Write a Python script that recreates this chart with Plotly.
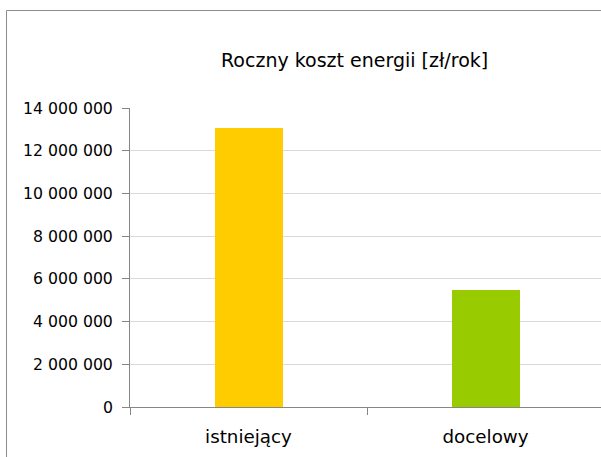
import plotly.graph_objects as go

categories = ["istniejący", "docelowy"]
values = [13050000, 5480000]
colors = ["#FFCC00", "#99CC00"]
title_text = "Roczny koszt energii [zł/rok]"
y_ticks = [0, 2000000, 4000000, 6000000, 8000000, 10000000, 12000000, 14000000]

FONT = "DejaVu Sans"

fig = go.Figure()
fig.add_trace(go.Bar(
    x=categories, y=values, marker=dict(color=colors, line=dict(width=0)),
    width=0.287, hoverinfo="skip",
))

fig.update_layout(
    width=601, height=457,
    margin=dict(l=130, r=0, t=108, b=50),
    paper_bgcolor="white", plot_bgcolor="white",
    separators=", ",
    showlegend=False,
    font=dict(family=FONT, color="#000000"),
    bargap=0,
)
fig.update_xaxes(
    type="category",
    range=[-0.5, 1.487],
    showline=True, linecolor="#868686", linewidth=1,
    ticks="outside", tickson="boundaries", ticklen=7, tickcolor="#868686",
    tickfont=dict(family=FONT, size=18.3),
    showgrid=False, zeroline=False,
    ticklabelstandoff=13,
)
fig.update_yaxes(
    range=[0, 14000000],
    tickvals=y_ticks, tickformat=",d",
    showline=True, linecolor="#868686", linewidth=1,
    ticks="outside", ticklen=7, tickcolor="#868686",
    tickfont=dict(family=FONT, size=15.7),
    showgrid=True, gridcolor="#d9d9d9", gridwidth=1,
    zeroline=False,
    ticklabelstandoff=6,
)
# chart border (top and left edges; right/bottom fall outside the canvas)
bx = (6.5 - 130) / 471
by = (407 - 10.5) / 299
fig.add_shape(type="line", xref="paper", yref="paper",
              x0=bx, x1=1.05, y0=by, y1=by,
              line=dict(color="#8c8c8c", width=1))
fig.add_shape(type="line", xref="paper", yref="paper",
              x0=bx, x1=bx, y0=by, y1=-0.3,
              line=dict(color="#8c8c8c", width=1))
fig.add_annotation(text=title_text, xref="paper", yref="paper",
                   x=(354 - 130) / 471, y=(407 - 60) / 299,
                   xanchor="center", yanchor="middle", showarrow=False,
                   font=dict(family=FONT, size=19, color="#000000"))

fig.write_html(
    "out.html",
    config={"displayModeBar": False, "staticPlot": True},
    post_script="document.body.style.margin='0';document.body.style.padding='0';"
                "document.body.style.overflow='hidden';"
                "document.documentElement.style.overflow='hidden';",
)
